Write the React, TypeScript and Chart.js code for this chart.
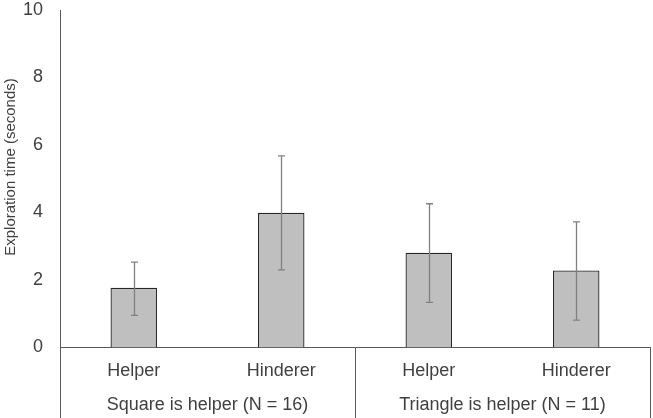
import React, { useEffect, useRef } from "react";
import { Chart, registerables } from "chart.js";

Chart.register(...registerables);

const categories = ["Helper", "Hinderer", "Helper", "Hinderer"];
const groups = ["Square is helper (N = 16)", "Triangle is helper (N = 11)"];
const groupSizes = [2, 2];
const means = [1.77, 3.99, 2.81, 2.28];
const errHigh = [2.53, 5.68, 4.26, 3.72];
const errLow = [0.95, 2.3, 1.34, 0.81];
const yTicks = [0, 2, 4, 6, 8, 10];
const yTitle = "Exploration time (seconds)";

const FONT = "'Liberation Sans', Arial, Helvetica, sans-serif";
const TEXT = "#404040";
const AXIS = "#595959";

const decorPlugin = {
  id: "decor",
  afterDatasetsDraw(chart: any) {
    const ctx = chart.ctx;
    const y = chart.scales.y;
    const meta = chart.getDatasetMeta(0);
    ctx.save();
    ctx.strokeStyle = "#808080";
    ctx.lineWidth = 1.3;
    meta.data.forEach((bar: any, i: number) => {
      const cx = Math.round(bar.x) + 0.5;
      const t = y.getPixelForValue(errHigh[i]);
      const b = y.getPixelForValue(errLow[i]);
      ctx.beginPath();
      ctx.moveTo(cx, t);
      ctx.lineTo(cx, b);
      ctx.moveTo(cx - 3.5, t);
      ctx.lineTo(cx + 3.5, t);
      ctx.moveTo(cx - 3.5, b);
      ctx.lineTo(cx + 3.5, b);
      ctx.stroke();
    });
    ctx.restore();
  },
  afterDraw(chart: any) {
    const ctx = chart.ctx;
    const x = chart.scales.x;
    const area = chart.chartArea;
    const H = chart.height;
    ctx.save();
    ctx.strokeStyle = AXIS;
    ctx.lineWidth = 1;
    const lines: number[] = [area.left];
    let idx = 0;
    groupSizes.forEach((n, gi) => {
      const last = idx + n - 1;
      if (gi < groupSizes.length - 1) {
        lines.push((x.getPixelForValue(last) + x.getPixelForValue(last + 1)) / 2);
      }
      idx += n;
    });
    lines.push(area.right);
    lines.forEach((lx) => {
      const px = Math.round(lx) + 0.5;
      ctx.beginPath();
      ctx.moveTo(px, area.bottom);
      ctx.lineTo(px, H);
      ctx.stroke();
    });
    ctx.fillStyle = TEXT;
    ctx.font = `18px ${FONT}`;
    ctx.textAlign = "center";
    ctx.textBaseline = "middle";
    idx = 0;
    groupSizes.forEach((n, gi) => {
      const c = (x.getPixelForValue(idx) + x.getPixelForValue(idx + n - 1)) / 2;
      ctx.fillText(groups[gi], c, 405);
      idx += n;
    });
    ctx.font = `15px ${FONT}`;
    ctx.translate(11, 167);
    ctx.rotate(-Math.PI / 2);
    ctx.fillText(yTitle, 0, 0);
    ctx.restore();
  },
};

export default function App() {
  const ref = useRef<HTMLCanvasElement>(null);
  useEffect(() => {
    const chart = new Chart(ref.current!, {
      type: "bar",
      data: {
        labels: categories,
        datasets: [
          {
            data: means,
            backgroundColor: "#bfbfbf",
            borderColor: "#262626",
            borderWidth: 1.3,
            barPercentage: 0.315,
            categoryPercentage: 1,
          },
        ],
      },
      options: {
        animation: false,
        responsive: false,
        devicePixelRatio: 1,
        layout: { padding: { top: 10, right: 3, left: 0, bottom: 0 } },
        plugins: { legend: { display: false }, tooltip: { enabled: false } },
        scales: {
          x: {
            grid: { display: false, drawTicks: false },
            border: { display: true, color: AXIS, width: 1 },
            ticks: {
              color: TEXT,
              font: { family: FONT, size: 18 },
              padding: 13,
              maxRotation: 0,
              autoSkip: false,
            },
            afterFit: (s: any) => {
              s.height = 70.5;
              s.paddingLeft = 0;
              s.paddingRight = 0;
            },
          },
          y: {
            min: 0,
            max: 10,
            afterBuildTicks: (s: any) => {
              s.ticks = yTicks.map((v) => ({ value: v }));
            },
            grid: { display: false, drawTicks: false },
            border: { display: true, color: AXIS, width: 1 },
            ticks: {
              color: TEXT,
              font: { family: FONT, size: 18, lineHeight: 1 },
              padding: 17,
            },
            afterFit: (s: any) => {
              s.width = 60;
              s.paddingTop = 0;
              s.paddingBottom = 0;
            },
          },
        },
      },
      plugins: [decorPlugin],
    });
    return () => chart.destroy();
  }, []);
  return (
    <div style={{ position: "fixed", left: 0, top: 0, width: 653, height: 418, background: "#fff" }}>
      <canvas ref={ref} width={653} height={418} />
    </div>
  );
}
